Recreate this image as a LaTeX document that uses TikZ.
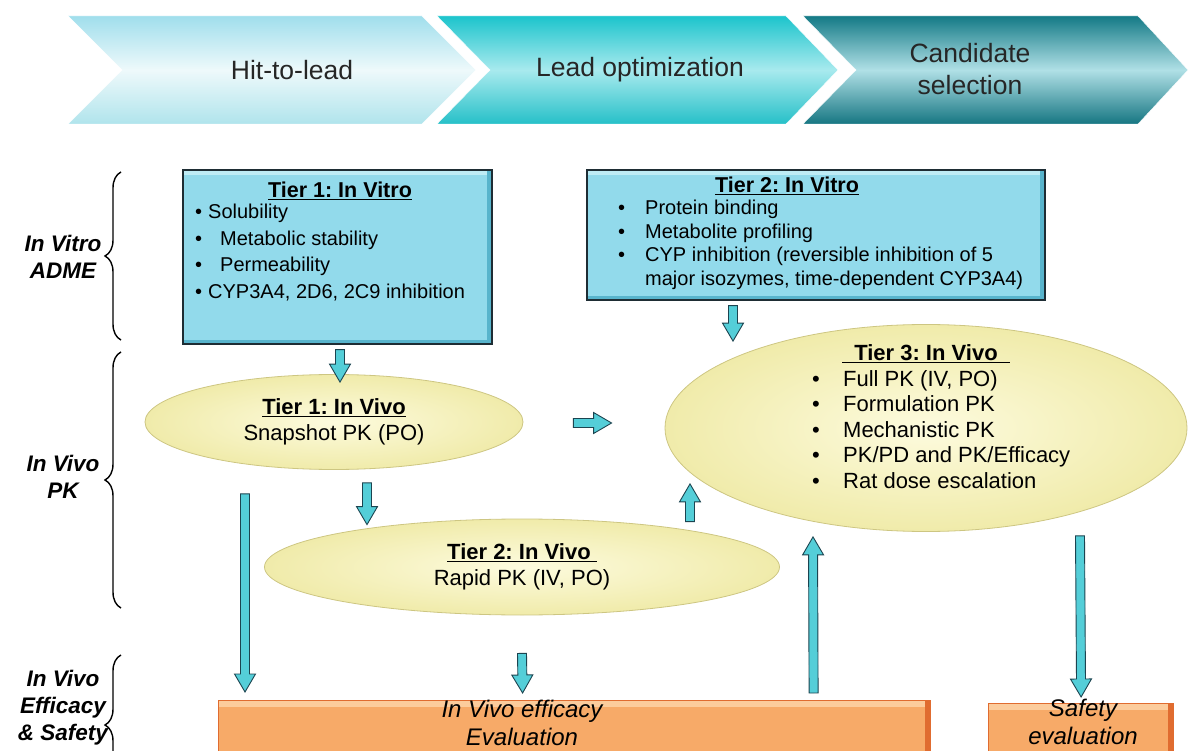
\documentclass[tikz,border=0pt]{standalone}
\usepackage{fontspec}
\setmainfont{Liberation Sans}
\usetikzlibrary{decorations.pathreplacing}
\usetikzlibrary{shapes.geometric}
\usetikzlibrary{positioning}
\usetikzlibrary{calc}

\definecolor{chevAtop}{RGB}{160,222,236}
\definecolor{chevAmid}{RGB}{238,249,251}
\definecolor{chevAbot}{RGB}{176,228,236}
\definecolor{chevBtop}{RGB}{28,196,204}
\definecolor{chevBmid}{RGB}{168,234,238}
\definecolor{chevBbot}{RGB}{38,192,200}
\definecolor{chevCtop}{RGB}{20,122,134}
\definecolor{chevCmid}{RGB}{176,224,230}
\definecolor{chevCbot}{RGB}{22,118,130}
\definecolor{vitrocyan}{RGB}{146,218,235}
\definecolor{vitrolight}{RGB}{190,236,245}
\definecolor{vitrodark}{RGB}{88,180,204}
\definecolor{boxedge}{RGB}{30,45,52}
\definecolor{vivoin}{RGB}{253,251,222}
\definecolor{vivoout}{RGB}{240,235,170}
\definecolor{vivoedge}{RGB}{205,198,130}
\definecolor{arrowcyan}{RGB}{84,206,216}
\definecolor{arrowedge}{RGB}{28,68,80}
\definecolor{orangemain}{RGB}{247,170,104}
\definecolor{orangelight}{RGB}{252,204,156}
\definecolor{orangedark}{RGB}{224,108,48}

% block arrow between two points
\newcommand{\blockarrow}[2]{%
  \coordinate (bs) at (#1);
  \coordinate (be) at (#2);
  \coordinate (bh) at ($(be)!18pt!(bs)$);
  \filldraw[blockarrow] ($(bs)!4.5pt!90:(be)$) -- ($(bh)!4.5pt!90:(be)$)
    -- ($(bh)!10.5pt!90:(be)$) -- (be) -- ($(bh)!10.5pt!-90:(be)$)
    -- ($(bh)!4.5pt!-90:(be)$) -- ($(bs)!4.5pt!-90:(be)$) -- cycle;
}
\newcommand{\itm}[1]{\makebox[#1][l]{\textbullet}}

\begin{document}
\frenchspacing
\begin{tikzpicture}[x=1pt, y=-1pt,
    phasetext/.style = {align=center, text=black!85, font=\fontsize{26.5}{32}\selectfont},
    sidelabel/.style = {align=center, font=\fontsize{22.5}{27}\selectfont\bfseries\itshape},
    vitrobox/.style = {draw=boxedge, line width=1.3pt, fill=vitrocyan, inner sep=0pt,
        path picture={
          \fill[vitrolight] (path picture bounding box.north west) rectangle ([yshift=-5pt]path picture bounding box.north east);
          \fill[vitrodark] ([xshift=-5pt]path picture bounding box.north east) rectangle (path picture bounding box.south east);
          \fill[vitrodark] (path picture bounding box.south west) rectangle ([yshift=4pt]path picture bounding box.south east);}},
    vivoell/.style = {ellipse, draw=vivoedge, line width=0.8pt, inner color=vivoin, outer color=vivoout, inner sep=0pt, align=center},
    evalbox/.style = {draw=orangedark, line width=1.2pt, fill=orangemain, inner sep=0pt,
        path picture={
          \fill[orangelight] (path picture bounding box.north west) rectangle ([yshift=-6pt]path picture bounding box.north east);
          \fill[orangedark] ([xshift=-6pt]path picture bounding box.north east) rectangle (path picture bounding box.south east);}},
    titletext/.style = {inner sep=0pt, font=\fontsize{21.5}{26}\selectfont\bfseries},
    listtext/.style = {inner sep=0pt, align=left},
    vivotext/.style = {font=\fontsize{22}{26}\selectfont},
    evaltext/.style = {align=center, font=\fontsize{24}{28}\selectfont\itshape},
    blockarrow/.style = {fill=arrowcyan, draw=arrowedge, line width=0.9pt, line join=miter},
    bracket/.style = {decorate, decoration={brace, amplitude=16pt}, line width=1.4pt}]

  \useasboundingbox (0,0) rectangle (1192,751);
  \clip (0,0) rectangle (1192,751);

  % Phases
  \shadedraw[top color=chevAtop, bottom color=chevAbot, middle color=chevAmid, draw=white]
    (68,16) -- (422,16) -- (476,70) -- (422,124) -- (68,124) -- (122,70) -- cycle;
  \shadedraw[top color=chevBtop, bottom color=chevBbot, middle color=chevBmid, draw=white]
    (437,16) -- (786,16) -- (838,70) -- (786,124) -- (437,124) -- (490,70) -- cycle;
  \shadedraw[top color=chevCtop, bottom color=chevCbot, middle color=chevCmid, draw=white]
    (803,16) -- (1138,16) -- (1188,70) -- (1138,124) -- (803,124) -- (856,70) -- cycle;
  \node[phasetext] (hit) at (292,70) {Hit-to-lead};
  \node[phasetext] (lead) at (640,70) {Lead optimization};
  \node[phasetext] (cand) at (970,69) {Candidate\\selection};

  % Stages on the left
  \node[sidelabel] (adme) at (63,257) {In Vitro\\ADME};
  \node[sidelabel] (pk) at (63,477) {In Vivo\\PK};
  \node[sidelabel] (effsafe) at (63,708) {In Vivo\\Efficacy\\\& Safety};
  \draw[bracket] (121,340) -- (121,172);
  \draw[bracket] (121,608) -- (121,352);
  \draw[bracket] (121,795) -- (121,655);

  % In vitro boxes
  \node[vitrobox, minimum width=309pt, minimum height=174pt] (t1vitro) at (337.5,257) {};
  \node[titletext] (t1vitrotitle) at (340,191) {\underline{Tier 1: In Vitro}};
  \node[listtext, anchor=north west, font=\fontsize{20}{26.5}\selectfont] (t1vitrolist) at (195,204)
    {\itm{13pt}Solubility\\ \itm{25pt}Metabolic stability\\ \itm{25pt}Permeability\\ \itm{13pt}CYP3A4, 2D6, 2C9 inhibition};

  \node[vitrobox, minimum width=458pt, minimum height=130pt] (t2vitro) at (816,235) {};
  \node[titletext] (t2vitrotitle) at (787,186) {\underline{Tier 2: In Vitro}};
  \node[listtext, anchor=north west, font=\fontsize{20}{23.5}\selectfont] (t2vitrolist) at (618,200)
    {\itm{27pt}Protein binding\\ \itm{27pt}Metabolite profiling\\ \itm{27pt}CYP inhibition (reversible inhibition of 5\\ \hspace*{27pt}major isozymes, time-dependent CYP3A4)};

  % In vivo ellipses
  \node[vivoell, vivotext, minimum width=378pt, minimum height=95pt] (t1vivo) at (334,422)
    {\underline{\textbf{Tier 1: In Vivo}}\\Snapshot PK (PO)};
  \node[vivoell, vivotext, minimum width=515pt, minimum height=96pt] (t2vivo) at (522,567)
    {\underline{\textbf{Tier 2: In Vivo\ }}\\Rapid PK (IV, PO)};
  \node[vivoell, minimum width=522pt, minimum height=207pt] (t3vivo) at (926,428) {};
  \node[titletext, font=\fontsize{22}{26}\selectfont\bfseries] (t3vivotitle) at (926,354) {\underline{\ \ Tier 3: In Vivo\ \ }};
  \node[listtext, anchor=north west, font=\fontsize{22}{25.5}\selectfont] (t3vivolist) at (812,370)
    {\itm{31pt}Full PK (IV, PO)\\ \itm{31pt}Formulation PK\\ \itm{31pt}Mechanistic PK\\ \itm{31pt}PK/PD and PK/Efficacy\\ \itm{31pt}Rat dose escalation};

  % Evaluation boxes
  \node[evalbox, anchor=north west, minimum width=712pt, minimum height=62pt] (effbox) at (218,700) {};
  \node[evaltext] (efftext) at (522,723) {In Vivo efficacy\\Evaluation};
  \node[evalbox, anchor=north west, minimum width=185pt, minimum height=62pt] (safebox) at (988,703) {};
  \node[evaltext] (safetext) at (1083,722) {Safety\\evaluation};

  % Arrows
  \blockarrow{$(t1vitro.south)+(2.5,5)$}{$(t1vivo.north)+(6,8)$}
  \blockarrow{$(t2vitro.south)+(-83,5)$}{$(t3vivo.north)+(-193,17)$}
  \blockarrow{$(t1vivo.east)+(50,1)$}{$(t3vivo.west)+(-53,-5)$}
  \blockarrow{$(t1vivo.south)+(33,13)$}{$(t2vivo.north)+(-155,6)$}
  \blockarrow{$(t1vivo.south)+(-89,24)$}{$(effbox.north west)+(27,-8)$}
  \blockarrow{$(t2vivo.north)+(168,3)$}{$(t3vivo.south)+(-236,-48)$}
  \blockarrow{$(t2vivo.south)+(0,38)$}{$(effbox.north)+(-52,-7)$}
  \blockarrow{$(effbox.north)+(239,-7)$}{$(t3vivo.south)+(-113,5)$}
  \blockarrow{$(t3vivo.south)+(154,4)$}{$(safebox.north)+(0,-6)$}

\end{tikzpicture}
\end{document}
